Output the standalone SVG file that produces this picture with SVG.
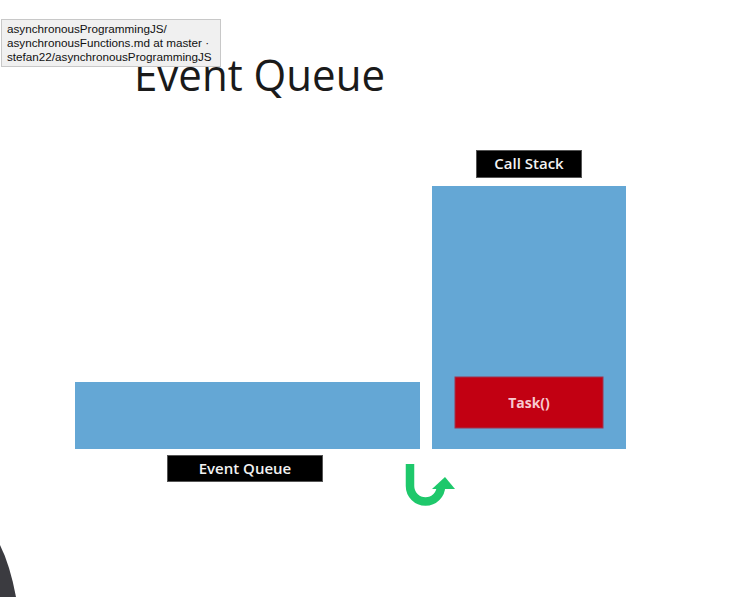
<svg xmlns="http://www.w3.org/2000/svg" width="744" height="597" viewBox="0 0 744 597">
  <style>
    .bin { fill: #64a7d5; }
    .tag rect { fill: #000; stroke: #555; stroke-width: 1; }
    .tag text { fill: #f2f2f2; font-family: "Open Sans", "Liberation Sans", sans-serif; font-weight: 600; font-size: 15px; text-anchor: middle; }
    .tip { font-family: "Liberation Sans", Arial, sans-serif; font-size: 11.7px; fill: #111; }
  </style>
  <rect width="744" height="597" fill="#ffffff"/>

  <!-- slide title -->
  <text x="134" y="91" font-family="'Open Sans', 'Liberation Sans', sans-serif" font-weight="400" font-size="44" fill="#1a1a1a" textLength="251" lengthAdjust="spacingAndGlyphs">Event Queue</text>

  <!-- queue bar -->
  <g id="event-queue">
    <rect class="bin" x="75" y="382" width="345" height="67"/>
  </g>
  <g id="event-queue-label" class="tag">
    <rect x="167.5" y="455.5" width="155" height="26"/>
    <text x="245" y="474">Event Queue</text>
  </g>

  <!-- stack column -->
  <g id="call-stack">
    <rect class="bin" x="432" y="186" width="194" height="263"/>
  </g>
  <g id="call-stack-label" class="tag">
    <rect x="476.5" y="150.5" width="105" height="27"/>
    <text x="529" y="169">Call Stack</text>
  </g>

  <g id="task">
    <rect x="455" y="377" width="148" height="51" fill="#c20012" stroke="#9e3550" stroke-width="1"/>
    <text x="529" y="408" fill="#f7c9d0" font-family="'Open Sans', 'Liberation Sans', sans-serif" font-weight="700" font-size="14" text-anchor="middle">Task()</text>
  </g>

  <!-- turn-around arrow -->
  <g id="connectors">
    <path d="M410 464 V486 A15.5 15.5 0 0 0 441 486 V487" fill="none" stroke="#1ec86b" stroke-width="8.5"/>
    <polygon points="432,489 455,489 445,477" fill="#1ec86b"/>
  </g>

  <!-- tooltip -->
  <g id="tooltip">
    <rect x="1.5" y="19.5" width="219" height="47" fill="#f0f0f0" stroke="#c8c8c8" stroke-width="1"/>
    <text class="tip" x="7" y="33">asynchronousProgrammingJS/</text>
    <text class="tip" x="7" y="47">asynchronousFunctions.md at master ·</text>
    <text class="tip" x="7" y="61">stefan22/asynchronousProgrammingJS</text>
  </g>

  <!-- dark edge, lower left -->
  <path d="M0 545 Q10 565 16 597 L0 597 Z" fill="#3b3b40"/>
</svg>
